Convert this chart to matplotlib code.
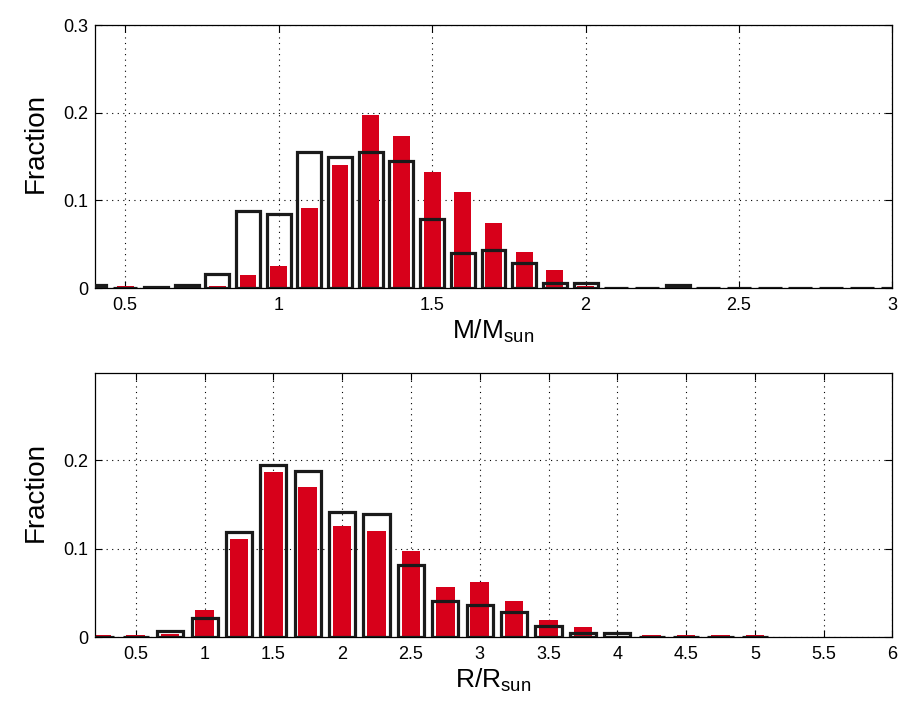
import numpy as np
import matplotlib.pyplot as plt

plt.rcParams['font.family'] = ['Liberation Sans', 'DejaVu Sans']
plt.rcParams['mathtext.default'] = 'regular'

# mass histogram (bin centres, fractions)
mass_bins = [0.4, 0.5, 0.6, 0.7, 0.8, 0.9, 1.0, 1.1, 1.2, 1.3, 1.4, 1.5, 1.6, 1.7,
             1.8, 1.9, 2.0, 2.1, 2.2, 2.3, 2.4, 2.5, 2.6, 2.7, 2.8, 2.9, 3.0]
mass_black = [0.003, 0.0, 0.001, 0.003, 0.016, 0.088, 0.085, 0.155, 0.150, 0.155,
              0.145, 0.079, 0.040, 0.043, 0.0285, 0.006, 0.006, 0.0, 0.0, 0.003,
              0.0, 0.0, 0.0, 0.0, 0.0, 0.0, 0.0]
mass_red = [0.0, 0.002, 0.002, 0.0, 0.002, 0.015, 0.025, 0.091, 0.140, 0.197,
            0.174, 0.132, 0.110, 0.074, 0.041, 0.020, 0.002, 0.0015, 0.0015, 0.0,
            0.0015, 0.0015, 0.0015, 0.0015, 0.0015, 0.0015, 0.0015]

# radius histogram
rad_bins = [0.25, 0.5, 0.75, 1.0, 1.25, 1.5, 1.75, 2.0, 2.25, 2.5, 2.75, 3.0,
            3.25, 3.5, 3.75, 4.0, 4.25, 4.5, 4.75, 5.0]
rad_black = [0.0, 0.0, 0.007, 0.021, 0.119, 0.194, 0.188, 0.141, 0.139, 0.081,
             0.041, 0.036, 0.028, 0.012, 0.004, 0.004, 0.0, 0.0, 0.0, 0.0]
rad_red = [0.002, 0.002, 0.003, 0.030, 0.111, 0.186, 0.169, 0.126, 0.120, 0.097,
           0.057, 0.062, 0.041, 0.019, 0.011, 0.0, 0.002, 0.002, 0.002, 0.002]

mass_ticks = [0.5, 1, 1.5, 2, 2.5, 3]
mass_ticklabels = ['0.5', '1', '1.5', '2', '2.5', '3']
rad_ticks = [0.5, 1, 1.5, 2, 2.5, 3, 3.5, 4, 4.5, 5, 5.5, 6]
rad_ticklabels = ['0.5', '1', '1.5', '2', '2.5', '3', '3.5', '4', '4.5', '5', '5.5', '6']

red = '#d7001a'
dark = '#1a1a1a'

fig = plt.figure(figsize=(9.22, 7.14), dpi=100)
ax1 = fig.add_axes([0.1025, 0.5966, 0.8655, 0.3683])
ax2 = fig.add_axes([0.1025, 0.1078, 0.8655, 0.3693])


def style(ax, xlim, ylim, xt, xtl, yt, ytl, xlabel):
    ax.set_xlim(*xlim)
    ax.set_ylim(*ylim)
    ax.set_xticks(xt)
    ax.set_xticklabels(xtl)
    ax.set_yticks(yt)
    ax.set_yticklabels(ytl)
    ax.grid(True, color='black', linestyle=(0, (1, 4)), linewidth=0.8)
    ax.set_axisbelow(True)
    ax.tick_params(direction='in', length=5, width=0.8, labelsize=13,
                   top=True, right=True)
    ax.tick_params(axis='x', pad=6.5)
    ax.tick_params(axis='y', pad=4.5)
    for s in ax.spines.values():
        s.set_linewidth(0.9)
    ax.set_xlabel(xlabel, fontsize=19, labelpad=3)
    ax.set_ylabel('Fraction', fontsize=20)
    ax.yaxis.set_label_coords(-0.057, 0.55)


ax1.bar(mass_bins, mass_red, width=0.055, color=red, zorder=2)
ax1.bar(mass_bins, mass_black, width=0.078, facecolor='none', edgecolor=dark,
        linewidth=2.3, zorder=3)
style(ax1, (0.4, 3.0), (0, 0.3), mass_ticks, mass_ticklabels,
      [0, 0.1, 0.2, 0.3], ['0', '0.1', '0.2', '0.3'], 'M/M$_{sun}$')

ax2.bar(rad_bins, rad_red, width=0.135, color=red, zorder=2)
ax2.bar(rad_bins, rad_black, width=0.19, facecolor='none', edgecolor=dark,
        linewidth=2.3, zorder=3)
style(ax2, (0.2, 6.0), (0, 0.298), rad_ticks, rad_ticklabels,
      [0, 0.1, 0.2], ['0', '0.1', '0.2'], 'R/R$_{sun}$')

fig.savefig('out.png', dpi=100)
